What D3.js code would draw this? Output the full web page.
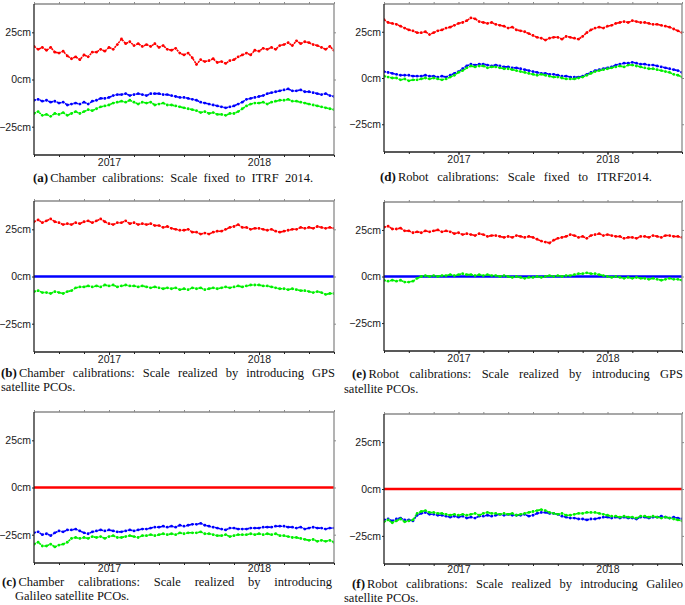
<!DOCTYPE html>
<html><head><meta charset="utf-8">
<script src="https://cdn.jsdelivr.net/npm/d3@7"></script>
<style>body{margin:0;background:#fff}svg{display:block}</style>
</head><body>
<svg id="c" width="685" height="605"></svg>
<script>
// ---- data (values in cm, one value every 1/36 year starting 2016.5) ----
const xStart = 2016.5, xStep = 1/36;
const xDomain = [2016.5, 2018.5];
const yDomain = [-40, 40];
const yTicks = [-25, 0, 25];
const yearTicks = [2017, 2018];
const minorStep = 1/6;
const zeroLine = [0];

const aRed = [17.5,16,17, 15.5,17,14.5, 14,15,12.5, 11,12,10.5, 13,12,14.5, 14.5,16,15, 17,16,18.5, 21.5,19,20, 18,19,17.5, 18.5,17.5,19, 17,18,16, 15.5,16.5,14, 13,14,11.5, 8,10.5,9.5, 10,11,9, 9.5,8.5,10, 10.5,12,13, 14,13,15.5, 15,16.5,16, 17,16,18, 18.5,19.5,18, 20.5,19,20, 19.5,18.5,18, 17,16,17.5, 15.5];
const aBlue = [-11,-10.5,-11.5, -11,-12,-11.5, -12.5,-12,-13.5, -13,-12.5,-13, -12,-13,-11.5, -11,-10,-10, -9.5,-8.5,-8, -8,-7.5,-8.5, -8,-7.5,-8, -8.5,-7.5,-7.5, -7.5,-8,-8, -8.5,-9,-9.5, -9.5,-10,-10.5, -11,-12,-12.5, -13,-13.5,-14, -14.5,-15,-14.5, -14,-13,-12, -10.5,-10,-9.5, -9,-8.5,-7.5, -7,-6.5,-6, -5.5,-5,-6, -6,-5.5,-6.5, -6.5,-7,-7.5, -8,-7.5,-8.5, -9];
const aGreen = [-18,-17,-19, -18.5,-19.5,-18, -18.5,-17.5,-19, -18,-17,-18, -17,-16,-16.5, -15.5,-14.5,-14, -13.5,-12.5,-12, -11.5,-12,-11, -12,-13,-12, -12.5,-12,-13.5, -13,-12.5,-13.5, -13.5,-14,-14.5, -15,-15.5,-16, -16.5,-17.5,-17, -18,-17.5,-18.5, -18.5,-19,-18, -18,-17,-15.5, -14,-13,-12.5, -12.5,-12,-13, -12,-11.5,-11, -11,-10.5,-11.5, -11.5,-12,-12.5, -13,-13.5,-14, -14.5,-15,-15.5, -16];

const bRed = [29,30,28.5, 29.5,30.5,29, 28.5,27.5,28, 27.5,28.5,28, 29,29.5,28.5, 29.5,30.5,29, 28,27.5,28.5, 28.5,29.5,28, 28.5,27.5,28, 27.5,28,27, 27,26,26.5, 25.5,25,24.5, 24.5,25,23.5, 23.5,22.5,23, 22.5,23.5,24, 24,25,26, 26.5,27.5,26, 26,25,25.5, 25.5,25,24.5, 25,24,23.5, 24,24.5,25, 25,26,25.5, 26,25.5,26.5, 26,25.5,26, 25.5];
const bGreen = [-8,-7.5,-8.5, -8.5,-9,-8, -8.5,-9,-8, -7.5,-6,-5.5, -5.5,-5,-5.5, -5,-5.5,-4.5, -5,-4.5,-5.5, -5,-4.5,-5, -5,-5.5,-5, -5.5,-6,-5.5, -6,-6.5,-6, -6.5,-6,-7, -6.5,-7,-6, -6.5,-6,-7, -6.5,-6,-6.5, -6,-5.5,-6, -5.5,-5,-5.5, -5,-4.5,-4.5, -4.5,-5,-5, -5.5,-6,-6.5, -6.5,-7,-6.5, -7,-7.5,-7.5, -8,-8.5,-8, -8.5,-9.5,-9, -9];

const cBlue = [-24,-23.5,-25, -24.5,-25.5,-24, -23,-23.5,-22.5, -22.5,-22,-23, -24,-24.5,-23.5, -23,-22.5,-23, -22.5,-23,-23.5, -23.5,-23,-22.5, -23,-22.5,-22, -22,-21.5,-21, -21,-20.5,-21, -20.5,-21,-20, -20.5,-20,-19.5, -19.5,-19,-20, -20.5,-21,-21.5, -22,-22.5,-21.5, -21.5,-22,-22, -22,-21.5,-21.5, -21.5,-21,-21, -21,-20.5,-20.5, -20.5,-21,-21, -21.5,-21,-22, -21.5,-21,-21.5, -21.5,-22,-21.5, -21.5];
const cGreen = [-30,-29,-31, -31,-30,-31.5, -30.5,-30,-29, -27,-26.5,-27, -26.5,-27,-26, -26.5,-26,-27, -26,-25.5,-26.5, -26.5,-26,-25.5, -26,-26.5,-25.5, -25.5,-25,-25.5, -25,-24.5,-25, -24.5,-25,-24, -24.5,-24,-24, -24,-23.5,-24.5, -24.5,-25,-25.5, -25.5,-25,-26, -25.5,-25,-25, -25,-24.5,-25, -24.5,-25,-24.5, -25,-24.5,-25.5, -25.5,-26,-26.5, -26.5,-27,-27.5, -28,-27.5,-28.5, -28,-28.5,-28, -29];

const dRed = [31.5,30,29.5, 29,28,27, 26,25.5,24.5, 24.5,25,23.5, 24.5,25.5,26, 27,27.5,28.5, 29.5,30,31, 32.5,32,30.5, 30,29.5,30, 29,28.5,28, 27,27.5,26, 25.5,25,24, 23,22,21.5, 20.5,21.5,22, 22,21,22.5, 22,21.5,21, 22.5,24.5,26, 27,27.5,27, 28,28.5,29.5, 30,30.5,30, 31,30.5,30, 30,29.5,29, 29,28.5,28, 27.5,26.5,25.5, 24.5];
const dBlue = [3.5,3,2.5, 2,1.5,1.5, 1.5,1,1, 1,1.5,1, 1,0.5,1, 0.5,1.5,2.5, 3.5,5,6.5, 7.5,7,7.5, 7.5,7,6.5, 7,6.5,6, 6,5.5,5.5, 5,4.5,4, 3.5,3,2.5, 2.5,2,2, 1.5,1,1, 0.5,0.5,0.5, 1,2,3, 4,4.5,5, 5.5,6,7, 7.5,8,8, 8.5,8,7.5, 7.5,7,7, 6.5,6,5.5, 5,4.5,4, 3];
const dGreen = [1,0.5,0, 0,-1,-0.5, -1.5,-1,-1, -0.5,0,-0.5, 0,-0.5,-1, -0.5,0.5,1.5, 3,4,5.5, 6.5,6,6.5, 6.5,5.5,6, 6,5.5,5, 5,4.5,4, 3.5,3,2.5, 2,1.5,2, 1.5,1,0.5, 0.5,0,-0.5, -0.5,-0.5,0, 0.5,1.5,2.5, 3.5,4,4.5, 5,5.5,6, 6.5,6,7, 7,6.5,6, 5.5,5,5, 4.5,4,3.5, 3,2,1.5, 0.5];

const eRed = [26.5,27,25.5, 25.5,26,24.5, 24.5,23.5,24, 23.5,24.5,24, 24.5,25,24, 24.5,24,23, 23.5,22.5,23, 22.5,22,23, 22.5,21.5,22, 22,21.5,21, 21.5,21,22, 21.5,21,21.5, 21,20,19, 18.5,18,19.5, 20.5,21,21.5, 22.5,22,21, 21.5,20.5,22, 22.5,23,22, 22.5,22,21.5, 21.5,20.5,21, 21,20.5,21.5, 21.5,21,22, 21.5,21,22, 22,21.5,21.5, 21];
const eGreen = [-2,-2.5,-2, -2.5,-2,-3, -3,-2.5,-1, 0,0.5,0, 0.5,0,0.5, 0.5,1,0.5, 1,1.5,1, 1,0.5,1, 0.5,1,0.5, 0.5,0,0.5, 0,-0.5,0, -0.5,-1,-0.5, -0.5,0,-0.5, 0,0.5,0, 0.5,0,0.5, 0.5,1,1.5, 1.5,2,1.5, 1.5,1,0.5, 0,-0.5,0, -0.5,-1,-0.5, -1,-0.5,-1, -1,-1.5,-1, -1.5,-2,-1.5, -1,-1.5,-1.5, -2];

const fBlue = [-16.5,-16,-17, -16,-15.5,-16.5, -16.5,-17,-14, -13,-12.5,-13.5, -13.5,-14,-14, -14.5,-15,-14.5, -15,-14.5,-15.5, -15,-15.5,-14.5, -14.5,-14,-14.5, -14,-13.5,-14, -13.5,-14,-14, -14,-13.5,-14.5, -14,-13,-12.5, -12.5,-13,-13, -13.5,-14.5,-15, -15.5,-15.5,-16, -16,-16.5,-16, -16,-15.5,-15, -15,-15.5,-15, -15.5,-15,-15.5, -15.5,-16,-15, -15,-15.5,-15, -15,-14.5,-15, -15.5,-15,-15.5, -16];
const fGreen = [-17.5,-16.5,-18, -17,-16,-17.5, -17,-16.5,-13, -12,-11.5,-12.5, -12.5,-13,-13, -13.5,-14,-13.5, -14,-13.5,-14, -13.5,-13,-14, -13,-12.5,-13, -13,-13.5,-13, -13.5,-13,-14, -13.5,-13,-12.5, -12,-11.5,-11, -11.5,-12.5,-13, -13.5,-13,-14, -14,-13.5,-13, -13,-12.5,-12.5, -12.5,-13,-13.5, -14,-14.5,-14.5, -15,-14.5,-15, -15,-15.5,-14.5, -14.5,-15,-14.5, -15,-15.5,-15, -15.5,-16,-16.5, -17];

const RED = '#ff0000', BLUE = '#0000ff', GREEN = '#00f000';

const panels = [
  {id:'a', x:34, y:4, w:300, h:151, yearPad:1, lines:[], series:[[aRed,RED],[aBlue,BLUE],[aGreen,GREEN]],
   cap:{label:'(a)', l1:'Chamber calibrations: Scale fixed to ITRF 2014.', x0:33, x1:313, y1:182}},
  {id:'d', x:384, y:4, w:298, h:148, yearPad:1, lines:[], series:[[dRed,RED],[dBlue,BLUE],[dGreen,GREEN]],
   cap:{label:'(d)', l1:'Robot calibrations: Scale fixed to ITRF2014.', x0:380, x1:652, y1:181}},
  {id:'b', x:34, y:201, w:300, h:151, yearPad:1, lines:[[zeroLine,BLUE]], series:[[bRed,RED],[bGreen,GREEN]],
   cap:{label:'(b)', l1:'Chamber calibrations: Scale realized by introducing GPS', x0:1, x1:335, y1:377, l2:'satellite PCOs.', x2:1, y2:391}},
  {id:'e', x:384, y:202, w:298, h:149, yearPad:1, lines:[[zeroLine,BLUE]], series:[[eRed,RED],[eGreen,GREEN]],
   cap:{label:'(e)', l1:'Robot calibrations: Scale realized by introducing GPS', x0:352, x1:683, y1:378, l2:'satellite PCOs.', x2:344, y2:393}},
  {id:'c', x:34, y:412, w:300, h:151, yearPad:-1.5, lines:[[zeroLine,RED]], series:[[cBlue,BLUE],[cGreen,GREEN]],
   cap:{label:'(c)', l1:'Chamber calibrations: Scale realized by introducing', x0:2, x1:332, y1:586, l2:'Galileo satellite PCOs.', x2:15, y2:600}},
  {id:'f', x:384, y:414, w:298, h:150, yearPad:-1, lines:[[zeroLine,RED]], series:[[fBlue,BLUE],[fGreen,GREEN]],
   cap:{label:'(f)', l1:'Robot calibrations: Scale realized by introducing Galileo', x0:352, x1:683, y1:588, l2:'satellite PCOs.', x2:344, y2:602}}
];

const svg = d3.select('#c');
const SANS = "'Liberation Sans', Arial, sans-serif";
const SERIF = "'Liberation Serif', 'Times New Roman', serif";
const CAPSIZE = 12.5;
const fmtCm = d => (d < 0 ? '\u2212' + (-d) : d) + 'cm';
const minorTicks = d3.range(0, 13).map(i => xDomain[0] + i * minorStep);

function drawPanel(p) {
  const g = svg.append('g').attr('transform', `translate(${p.x},${p.y})`);
  const x = d3.scaleLinear().domain(xDomain).range([0, p.w]);
  const y = d3.scaleLinear().domain(yDomain).range([p.h, 0]);
  g.append('clipPath').attr('id', 'clip' + p.id)
    .append('rect').attr('width', p.w).attr('height', p.h);
  const plot = g.append('g').attr('clip-path', `url(#clip${p.id})`);

  p.lines.forEach(([vals, col]) => {
    plot.selectAll(null).data(vals).join('line')
      .attr('x1', x(xDomain[0])).attr('x2', x(xDomain[1]))
      .attr('y1', d => y(d)).attr('y2', d => y(d))
      .attr('stroke', col).attr('stroke-width', 2.4);
  });
  p.series.forEach(([vals, col]) => {
    const t = i => xStart + i * xStep;
    const line = d3.line().x((d, i) => x(t(i))).y(d => y(d));
    plot.append('path').datum(vals).attr('d', line)
      .attr('fill', 'none').attr('stroke', col).attr('stroke-width', 1.6)
      .attr('stroke-dasharray', '2.2,0.8');
    plot.selectAll(null).data(vals).join('circle')
      .attr('cx', (d, i) => x(t(i))).attr('cy', d => y(d))
      .attr('r', 1.4).attr('fill', col);
  });

  // frame: W and S dark, N and E grey
  const fr = g.append('g').attr('fill', 'none').attr('stroke-width', 1.3);
  fr.append('line').attr('x1', 0).attr('x2', p.w).attr('y1', 0).attr('y2', 0).attr('stroke', '#8a8a8a');
  fr.append('line').attr('x1', p.w).attr('x2', p.w).attr('y1', 0).attr('y2', p.h).attr('stroke', '#8a8a8a');
  fr.append('line').attr('x1', 0).attr('x2', p.w).attr('y1', p.h).attr('y2', p.h).attr('stroke', '#222');
  fr.append('line').attr('x1', 0).attr('x2', 0).attr('y1', 0).attr('y2', p.h).attr('stroke', '#222');

  const styleAxis = (sel, col) => {
    sel.select('.domain').remove();
    sel.selectAll('.tick line').attr('stroke', col).attr('stroke-width', 1);
    sel.selectAll('.tick text').attr('fill', '#1a1a1a').style('font-family', SANS).style('font-size', '10.5px');
  };
  g.append('g').call(d3.axisLeft(y).tickValues(yTicks).tickSize(2).tickPadding(1).tickFormat(fmtCm))
    .call(s => styleAxis(s, '#222'));
  g.append('g').attr('transform', `translate(${p.w},0)`)
    .call(d3.axisRight(y).tickValues(yTicks).tickSize(2).tickFormat(''))
    .call(s => styleAxis(s, '#8a8a8a'));
  g.append('g').attr('transform', `translate(0,${p.h})`)
    .call(d3.axisBottom(x).tickValues(minorTicks).tickSize(2).tickFormat(''))
    .call(s => styleAxis(s, '#222'));
  g.append('g').attr('transform', `translate(0,${p.h})`)
    .call(d3.axisBottom(x).tickValues(yearTicks).tickSize(3).tickPadding(p.yearPad).tickFormat(d3.format('d')))
    .call(s => styleAxis(s, '#222'));
  g.append('g')
    .call(d3.axisTop(x).tickValues(minorTicks).tickSize(2).tickFormat(''))
    .call(s => styleAxis(s, '#8a8a8a'));

  drawCaption(p.cap);
}

function measure(str, bold, size) {
  const t = svg.append('text').style('font-family', SERIF).style('font-size', size + 'px')
    .style('font-weight', bold ? 'bold' : 'normal').text(str);
  const w = t.node().getComputedTextLength();
  t.remove();
  return w;
}

function drawCaption(c) {
  const cg = svg.append('g').style('font-family', SERIF).style('font-size', CAPSIZE + 'px').attr('fill', '#111');
  const lw = measure(c.label, true, CAPSIZE + 0.5);
  cg.append('text').attr('x', c.x0).attr('y', c.y1).style('font-weight', 'bold').style('font-size', (CAPSIZE + 0.5) + 'px').text(c.label);
  const start = c.x0 + lw + 2;
  const words = c.l1.split(' ');
  const ws = words.map(w => measure(w, false, CAPSIZE));
  const total = d3.sum(ws);
  const gap = (c.x1 - start - total) / (words.length - 1);
  let cx = start;
  words.forEach((w, i) => {
    cg.append('text').attr('x', cx).attr('y', c.y1).text(w);
    cx += ws[i] + gap;
  });
  if (c.l2) cg.append('text').attr('x', c.x2).attr('y', c.y2).text(c.l2);
}

panels.forEach(drawPanel);
</script>
</body></html>
